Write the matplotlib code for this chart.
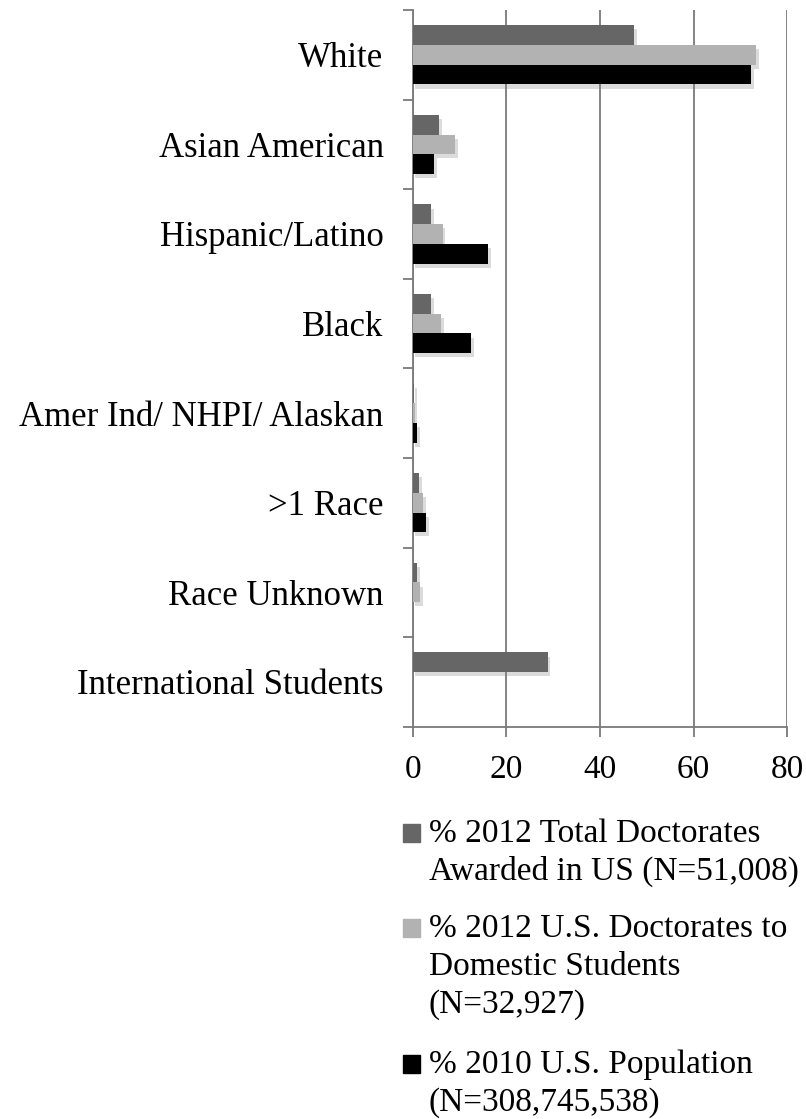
import numpy as np
import matplotlib
matplotlib.use("Agg")
import matplotlib.pyplot as plt
import matplotlib.patheffects as pe
from matplotlib.patches import Rectangle

plt.rcParams['font.family'] = ['Liberation Serif', 'DejaVu Serif']

# data
categories = ['White', 'Asian American', 'Hispanic/Latino', 'Black',
              'Amer Ind/ NHPI/ Alaskan', '>1 Race', 'Race Unknown',
              'International Students']
total_doct = [47.3, 5.7, 4.0, 4.0, 0.3, 1.4, 1.0, 28.8]
domestic_doct = [73.4, 9.0, 6.4, 6.0, 0.4, 2.3, 1.6, 0.0]
population = [72.2, 4.6, 16.1, 12.5, 0.9, 2.9, 0.0, 0.0]

series_labels = ['% 2012 Total Doctorates\nAwarded in US (N=51,008)',
                 '% 2012 U.S. Doctorates to\nDomestic Students\n(N=32,927)',
                 '% 2010 U.S. Population\n(N=308,745,538)']
colors = ['#666666', '#b2b2b2', '#000000']
grid_color = '#7a7a7a'

W, H = 806, 1119
fig = plt.figure(figsize=(W / 100, H / 100), dpi=100)
ax = fig.add_axes([412.7 / W, 1 - 726.7 / H, (787.3 - 412.7) / W, (726.7 - 10) / H])

y = np.arange(len(categories))
h = 0.22
shadow = [pe.withSimplePatchShadow(offset=(2, -3), shadow_rgbFace='#888888', alpha=0.3)]
for k, vals in enumerate([total_doct, domestic_doct, population]):
    ax.barh(y + (k - 1) * h, vals, height=h, color=colors[k], zorder=3,
            path_effects=shadow)

ax.set_xlim(0, 80)
ax.set_ylim(len(categories) - 0.5, -0.5)
ax.set_xticks([0, 20, 40, 60, 80])
ax.xaxis.grid(True, color=grid_color, linewidth=1.3, zorder=0)
ax.set_axisbelow(True)

# y ticks at category boundaries, labels at centers
ax.set_yticks(np.arange(len(categories) + 1) - 0.5)
ax.set_yticklabels([])
ax.set_yticks(y, minor=True)
ax.set_yticklabels(categories, minor=True)
ax.tick_params(axis='y', which='major', length=7, width=1.3, color=grid_color)
ax.tick_params(axis='y', which='minor', length=0, pad=21, labelsize=25)
ax.tick_params(axis='x', length=7, width=1.3, color=grid_color, pad=13, labelsize=24)

for s in ['top', 'right']:
    ax.spines[s].set_visible(False)
for s in ['left', 'bottom']:
    ax.spines[s].set_color(grid_color)
    ax.spines[s].set_linewidth(1.3)

# legend drawn as a column below the axes
first_baselines = [842, 937, 1073]
line_gap = 38
for k, lab in enumerate(series_labels):
    yb = first_baselines[k]
    fig.add_artist(Rectangle((403 / W, 1 - yb / H), 17 / W, 18 / H,
                             transform=fig.transFigure, color=colors[k]))
    for j, line in enumerate(lab.split('\n')):
        fig.text(429 / W, 1 - (yb + j * line_gap) / H, line, fontsize=24,
                 va='baseline', ha='left')

fig.savefig('out.png', dpi=100)
